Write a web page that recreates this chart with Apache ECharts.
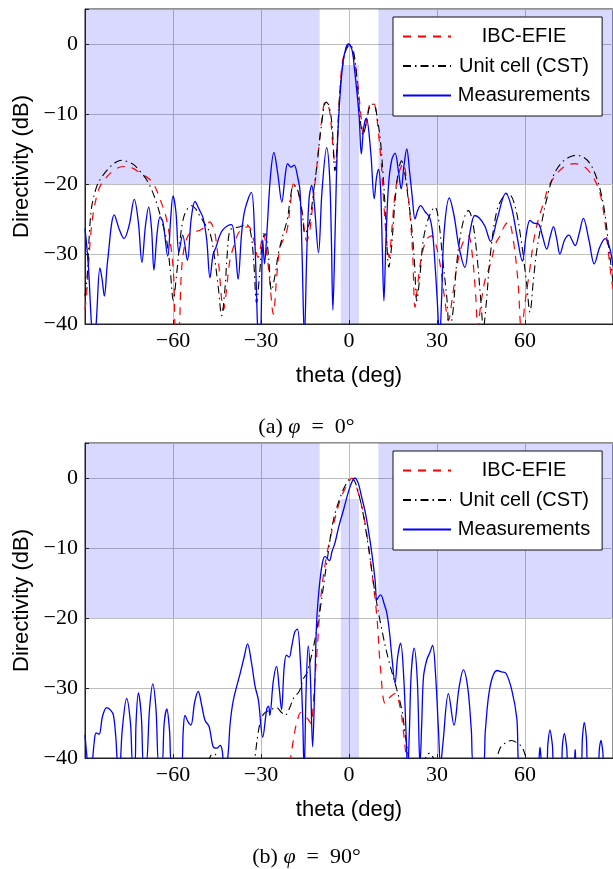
<!DOCTYPE html>
<html><head><meta charset="utf-8">
<script src="https://cdn.jsdelivr.net/npm/echarts@6/dist/echarts.min.js"></script>
<style>html,body{margin:0;padding:0;background:#fff}#c{width:613px;height:869px}</style>
</head><body><div id="c"></div><script>
// ---------- data (theta in deg, directivity in dB) ----------
const seriesNames = ['IBC-EFIE', 'Unit cell (CST)', 'Measurements'];
const xTicks = [-60, -30, 0, 30, 60];
const yTicks = [-40, -30, -20, -10, 0];
const captions = ['(a) {i|φ}\u2002=\u20020°', '(b) {i|φ}\u2002=\u200290°'];

// shading: side-lobe region (theta ranges, dB from -20 up), main-beam strip (theta range, dB from -40 to -3)
const shadeSideTheta = [[-90, -10], [10, 90]];
const shadeSideDb = [-20, 5];
const shadeBeamTheta = [-2.8, 3.4];
const shadeBeamDb = [-40, -3];

// ---- (a) phi = 0 ----
const aIbcTheta = [-90,-89.2,-88.2,-87.2,-85.5,-83.8,-80,-76.9,-74,-71.3,-67.8,-66,-64.4,-62.5,-61,-59.8,-59,-58.2,-57.2,-56.5,-55.5,-54.2,-52.5,-50.8,-48.8,-47.4,-46.5,-45.7,-44.5,-43.4,-42.8,-42,-40.6,-39,-37.7,-36,-34.3,-32.5,-31,-29.2,-28,-27,-25.8,-24.6,-23.5,-21.2,-20,-18.9,-17.6,-16,-14.4,-13.5,-12.7,-11.5,-10.4,-9.2,-8.1,-7.1,-6.2,-5.2,-4.5,-3.8,-2.5,-1.2,0,1.3,2.6,3.8,4.9,6,7,8.3,9.3,10.1,11,11.8,13,13.7,14.5,15.7,17,18.5,19.7,20.8,21.7,22.5,23.5,24.8,26.5,28.2,29.5,31,32.5,33.9,35.3,36.7,38.7,40.7,42,43.2,43.9,45,46.5,48.1,50,51.5,53,54.4,56,57.6,58.8,60,61.7,63,64.6,66.5,68,70,72,74.5,77.1,79,81,83.5,85.6,86.8,87.9,89.3,90];
const aIbcDb = [-38,-34.4,-28,-24.2,-21,-19.6,-18,-17.5,-17.7,-18.4,-19.4,-20.5,-22.2,-24.5,-28,-33,-42,-42,-33,-29.9,-28,-27,-26.8,-26.6,-26,-25.4,-26,-27,-31,-36.6,-38,-36,-30.9,-28.5,-27,-26.3,-26.1,-28,-30.5,-27.1,-30,-34,-38.6,-33,-29.1,-26.7,-23,-20,-20.8,-24,-28.1,-27,-24.3,-19.5,-15.2,-10.5,-8.3,-8.7,-11,-16,-17.6,-12,-3.3,-0.8,0,-1.2,-4.3,-9,-12.9,-11,-8.7,-8.3,-10,-12.9,-17,-22.4,-29.1,-30.5,-27,-21.4,-18.4,-17.1,-20,-24.5,-30,-37.6,-34,-30.2,-27.9,-27.4,-28.5,-31.3,-36,-39.5,-36,-32,-28.5,-27.4,-30,-36,-40.5,-37,-33.5,-31.6,-28.5,-27.4,-26,-25.4,-28,-33.9,-41,-37,-32,-28,-25,-22.5,-20.4,-19,-18,-17.3,-17.1,-17.3,-17.8,-19.2,-21.4,-24,-27.8,-33,-35];

const aCstTheta = [-90,-89.2,-88.5,-87.7,-86.2,-84.9,-82,-79.5,-77.5,-75.5,-73.5,-71.2,-69,-67.3,-65.6,-64,-62.2,-61,-59.9,-58.8,-57.6,-56.5,-55.3,-53.6,-52.2,-50.8,-49,-47.4,-46,-44.5,-43.4,-42.3,-41.5,-40.6,-39,-37.2,-34.9,-33.5,-32.5,-31.5,-30.5,-29.5,-28.6,-27.5,-26.4,-25.2,-24.1,-22.4,-21,-20,-18.9,-17.4,-16,-15,-14.2,-13.3,-12.2,-11,-9.5,-7.8,-6.8,-5.7,-4.8,-4,-3.3,-2.5,-1.3,0.3,1.5,2.6,3.8,4.8,6,7.2,8.5,9.6,10.7,11.6,12.4,13.6,14.5,15.5,16.7,17.9,19,20,21.2,22.3,23.1,24.2,25.3,27,29.3,30.5,32,33.3,34.3,35.5,36.8,38.9,40.7,42.2,43.8,45,45.8,46.8,48.2,50.3,52.3,54.4,56.5,58.5,60.5,61.7,62.8,64,65.7,67.5,69.7,72,74.5,77.6,80,82.2,84.3,86.2,87.5,88.5,89.6,90];
const aCstDb = [-36,-32.8,-27,-23.2,-20.6,-19.4,-17.8,-16.9,-16.6,-16.8,-17.2,-18.2,-19.4,-20.8,-22.7,-25,-28,-32,-36.6,-33,-28,-25,-23.7,-23.1,-23.6,-24.6,-25.8,-27,-30,-35,-38.8,-35,-30,-26.6,-26.3,-26.1,-25.8,-27,-31,-37,-33,-28,-27.1,-30,-35.2,-33,-30,-27.1,-25,-22,-20.2,-21,-24,-27.1,-26.5,-25.2,-21.5,-17.6,-12,-8.3,-8.8,-12,-18.1,-14,-8,-4.3,-1.2,-0.1,-1,-4.5,-10.7,-13,-11,-8.8,-8.6,-10.5,-13.8,-18.5,-23.8,-31.9,-29,-23.5,-18.5,-16.7,-18.5,-21.5,-25.5,-31,-36.7,-33,-28.1,-25,-23.3,-25,-31,-36,-41,-38,-31,-25.4,-23.8,-25.5,-31,-37,-40.5,-37,-30,-24,-22,-21.4,-23,-27.5,-34,-38.3,-34,-29.5,-25.5,-22,-18.8,-17.2,-16.3,-15.9,-16.2,-17.1,-19,-21.8,-25,-28.8,-32.6,-34];

const aMeasTheta = [-90,-88.8,-87.8,-87,-86.2,-84.9,-84.2,-83.4,-82.3,-80,-78.3,-76.7,-75,-73.2,-71.8,-70.6,-69.4,-68.3,-67.3,-66.5,-65.4,-64.4,-63.4,-61.8,-60.8,-60,-59,-58,-56.7,-55.1,-53.8,-52.5,-51,-49.7,-48.5,-47.4,-46.3,-45.3,-44.2,-43.1,-41.5,-40,-38.8,-37.8,-36.6,-35.5,-33.3,-32.2,-31.2,-30.6,-30,-29.4,-28.8,-28,-26.8,-25.6,-24.3,-22.9,-21.8,-20.9,-19.8,-18.7,-17.5,-16.7,-16,-15.2,-14.4,-13.6,-12.7,-11.8,-10.4,-9.2,-7.6,-6.6,-6,-5.5,-4.8,-4,-3,-2,-1,-0.2,1,1.8,3.4,4.2,5,5.9,7.4,8.6,9.4,10.1,10.8,11.4,11.9,12.6,13.5,14.6,15.7,16.8,17.8,18.7,19.7,20.6,21.6,22.5,23.4,24.4,26,27.5,28.5,29.3,30,30.9,31.6,32.4,34.2,35.8,37.5,39.5,41.2,42.9,44.5,46.3,48.3,50.5,53.5,55.5,57.3,59.1,60.5,61.7,63,64.6,66,67.4,68.6,69.7,70.8,71.9,73.5,75,76,77.1,78.5,79.9,81.8,83.6,85.5,87.3,88.8,90];
const aMeasDb = [-26.3,-32,-40,-43,-40,-32,-33.5,-36,-31,-24.4,-26.5,-27.8,-26,-22.2,-25.5,-31.2,-26,-23.3,-26.5,-32.3,-27,-24.7,-25.5,-30.3,-25,-21.7,-24,-29.7,-27.3,-30.9,-25,-22.5,-23.7,-24.9,-28,-33.4,-30,-29,-27.5,-26.6,-26,-25.8,-29,-33.6,-27,-23.7,-21.2,-27,-40,-44,-40,-28,-31.4,-27,-19,-15.5,-18.5,-22.6,-19,-17.1,-17.6,-17.3,-19,-21,-30,-42,-30,-22,-20.2,-23,-29.8,-21,-14.8,-19,-28,-38,-28,-15,-7,-2.5,-0.5,0,-0.8,-3.3,-10,-15.7,-12,-10.6,-15.4,-22.1,-19,-17.9,-21,-30,-36.7,-28,-20,-16.5,-15.6,-18,-20.7,-17.5,-15,-18,-22,-25,-23.8,-23.1,-24,-24.8,-27,-31.3,-36,-42,-36,-27,-22,-24.5,-29,-31.9,-27,-24.5,-24.9,-26,-28.2,-25,-21.3,-23.5,-27.5,-31,-27,-25.2,-25.6,-25.7,-27.5,-29.3,-27.5,-26.1,-27.8,-30,-28,-27.3,-28,-28.8,-27,-24.9,-28,-31.4,-29,-27.8,-29,-31.7];

// ---- (b) phi = 90 ----
const bIbcTheta = [-21,-20.2,-19.3,-18.4,-17.7,-16.5,-15.2,-13.9,-12.9,-12.3,-11.8,-10.7,-9.6,-7.9,-5.5,-2.6,0.3,0.9,3.2,5.5,7.7,9.5,10.6,12.3,13.5,15.7,17.4,18.5,19.5,20.2,21];
const bIbcDb = [-45,-41,-38.3,-36,-34.8,-33.5,-33.9,-34.5,-35.1,-33,-29.8,-23.6,-17,-11.7,-7,-2.7,-0.3,0,-2.2,-6.5,-13.1,-19.8,-26.5,-32.2,-31.5,-30.8,-32.7,-36,-40,-43,-46];

const bCstTheta = [-49.5,-48.5,-47.5,-46.5,-45.5,-44.5,-43.8,-34,-33,-32,-31,-30,-28.8,-26.6,-24.7,-23,-21.8,-20.1,-19,-17,-15.6,-14.4,-12.1,-9.9,-7.6,-5.3,-2.5,-0.2,0.9,3.8,6.6,8.9,11.2,13.5,15.7,18,19.1,20.3,21,24.5,25.5,26.5,27.5,28.5,29.5,30.5,49,50,51.5,53.5,55.5,57.5,58.9,60,61,62];
const bCstDb = [-43,-41,-40,-39.4,-39.5,-40.5,-42,-46,-43,-39.7,-36.5,-34.5,-33.6,-33.1,-32.8,-33.5,-33.9,-32.7,-31.5,-30.5,-28.7,-27.9,-24.1,-18.9,-12.2,-6,-2.2,-0.3,0,-3.1,-9.8,-16.5,-21.7,-26,-29.3,-33.1,-36.5,-40,-43,-43,-41,-39.6,-39.3,-39.8,-41,-43,-43,-41,-38.6,-37.8,-37.5,-37.9,-38.4,-39.5,-41,-43];

const bMeasTheta = [-90,-89.2,-88.5,-87.5,-86.8,-86.2,-85.2,-84,-82.6,-81.2,-80.3,-79.5,-78.9,-78.3,-77.3,-75.8,-74.5,-73.7,-73,-72.6,-71.8,-70.8,-70,-69.2,-68,-66.9,-65.8,-64.8,-63.8,-63,-62.1,-61.2,-60.3,-57.2,-56.5,-55.9,-54.9,-53.9,-52.6,-51.4,-50.2,-49.1,-47.7,-46.3,-45.1,-43.9,-43.2,-42.6,-41.5,-40.5,-39.4,-37.1,-35.7,-34.6,-33.2,-32,-30.9,-29.4,-28,-27.4,-27,-25.8,-24.7,-23.8,-23,-22.1,-21.3,-20.4,-19.5,-18.5,-17.6,-16.6,-15.8,-15.3,-14.6,-13.9,-13.2,-12.4,-11.7,-11,-9.9,-9,-8.2,-6.7,-5.8,-4.8,-3.4,-1.9,0.4,2,3.2,4.3,5.5,6.6,7.8,8.9,9.5,10.2,10.8,12,12.9,13.8,14.6,15.7,16.6,17.6,18.6,19.5,20,20.6,21.2,22.2,23.3,24.2,24.8,25.4,26.5,27.5,28.5,29.5,30.5,31.2,32,33.9,35.8,37.5,39,40.5,41.7,42.5,45.7,46.5,48.1,50.5,52,53.5,55.5,57.2,58.2,64.5,64.8,65.1,65.5,66,67.3,67.8,68.5,69.3,70,72.2,72.8,73.4,74.2,74.8,76.6,77.1,77.6,79,79.6,80.2,80.9,81.5,84.8,85.4,85.9,86.5,87,90];
const bMeasDb = [-36.7,-40.5,-43,-40.5,-37.5,-36.4,-36.6,-34,-32.8,-33.2,-33.9,-37,-41,-42,-36,-31.5,-35,-41,-41,-35,-30.7,-34,-41,-41,-33,-29.4,-33,-41,-41,-35,-33,-36,-41,-41,-36,-33.9,-34.8,-35.3,-32,-30.5,-32.5,-34.6,-35.5,-38.4,-38.6,-38.2,-39,-41,-40.5,-35,-31.7,-27.9,-25.5,-23.7,-26.5,-29.8,-31.7,-37,-32.9,-32.6,-33.9,-29,-26.9,-30,-33.1,-27,-25.3,-25.6,-24,-22,-21.6,-26,-34,-42,-30,-24,-28,-38.4,-30,-20.3,-14.6,-12,-11.2,-11.8,-10.5,-9.3,-6.8,-4.6,-1.2,0,-0.8,-2.7,-4.8,-7.4,-10.8,-14.6,-17.4,-16.9,-16.7,-18,-19.3,-22,-25.5,-29.3,-25.5,-23.6,-28,-37,-42,-36,-28,-24.3,-29,-41,-35,-28.4,-26,-25,-23.9,-28,-36,-41,-38,-30.8,-35.3,-30,-27.4,-30,-36,-41,-41,-36,-29.8,-27.5,-27.7,-27.9,-30.3,-34.3,-41,-41,-40,-38.5,-40,-41,-41,-38,-36,-38,-41,-41,-38,-36.5,-38.5,-41,-41,-38.8,-41,-41,-37,-34.9,-37,-41,-41,-38.5,-37.5,-39,-41,-41];

// ---------- chart ----------
const zip = (t, v) => t.map((x, i) => [x, v[i]]);
const FS = 'Liberation Sans, Arial, Helvetica, sans-serif';
const FSerif = 'Liberation Serif, Times New Roman, serif';
const GRID_TOPS = [9, 443];
const COLORS = ['#ff0000', '#000000', '#0000ff'];
const LINE_TYPES = [[8, 7], [8, 4, 1.5, 4], 'solid'];
const WIDTHS = [1.2, 1.1, 1.3];

const dataSets = [
  [zip(aIbcTheta, aIbcDb), zip(aCstTheta, aCstDb), zip(aMeasTheta, aMeasDb)],
  [zip(bIbcTheta, bIbcDb), zip(bCstTheta, bCstDb), zip(bMeasTheta, bMeasDb)]
];

const shadeFill = 'rgba(0,0,255,0.15)';
function shadeAreas() {
  const a = shadeSideTheta.map(r => [{xAxis: r[0], yAxis: shadeSideDb[0]}, {xAxis: r[1], yAxis: shadeSideDb[1]}]);
  a.push([{xAxis: shadeBeamTheta[0], yAxis: shadeBeamDb[0]}, {xAxis: shadeBeamTheta[1], yAxis: shadeBeamDb[1]}]);
  return a;
}
const tickFmt = list => v => (list.indexOf(v) >= 0 ? (v < 0 ? '\u2212' + Math.abs(v) : String(v)) : '');

const grids = [], xAxes = [], yAxes = [], series = [], legends = [], titles = [];
[0, 1].forEach(g => {
  grids.push({left: 85, top: GRID_TOPS[g], width: 528, height: 315, show: true,
    borderColor: '#222', borderWidth: 1, backgroundColor: 'transparent', containLabel: false, outerBoundsMode: 'none'});
  xAxes.push({gridIndex: g, type: 'value', min: -90, max: 90, interval: 30,
    name: 'theta (deg)', nameLocation: 'middle', nameGap: 41,
    nameTextStyle: {fontFamily: FS, fontSize: 22, color: '#000'},
    axisLine: {show: true, onZero: false, lineStyle: {color: '#222', width: 1}},
    axisTick: {show: true, inside: true, length: 4, lineStyle: {color: '#222'}},
    axisLabel: {margin: 6, fontFamily: FSerif, fontSize: 22, color: '#000', showMinLabel: false, showMaxLabel: false,
      formatter: tickFmt(xTicks)},
    splitLine: {show: true, lineStyle: {color: '#bdbdbd', width: 1}}});
  yAxes.push({gridIndex: g, type: 'value', min: -40, max: 5, interval: 10,
    name: 'Directivity (dB)', nameLocation: 'middle', nameGap: 49,
    nameTextStyle: {fontFamily: FS, fontSize: 22, color: '#000'},
    axisLine: {show: true, onZero: false, lineStyle: {color: '#222', width: 1}},
    axisTick: {show: true, inside: true, length: 4, lineStyle: {color: '#222'}},
    axisLabel: {margin: 7, fontFamily: FSerif, fontSize: 22, color: '#000', formatter: tickFmt(yTicks)},
    splitLine: {show: true, lineStyle: {color: '#bdbdbd', width: 1}}});
  // shading carrier
  series.push({name: 'shade' + g, type: 'line', xAxisIndex: g, yAxisIndex: g, data: [], silent: true, z: 1,
    markArea: {silent: true, itemStyle: {color: shadeFill}, data: shadeAreas()}});
  seriesNames.forEach((nm, k) => {
    series.push({name: nm, type: 'line', xAxisIndex: g, yAxisIndex: g, data: dataSets[g][k],
      showSymbol: false, symbol: 'none', smooth: 0.35, clip: true, z: 2 + k,
      lineStyle: {color: COLORS[k], width: WIDTHS[k], type: LINE_TYPES[k]},
      itemStyle: {color: COLORS[k]}});
  });
  legends.push({data: seriesNames, orient: 'vertical', left: 393, top: GRID_TOPS[g] + 8,
    padding: [9.5, 12, 10.5, 9], itemGap: 9.5, itemWidth: 48, itemHeight: 14,
    backgroundColor: '#fff', borderColor: '#111', borderWidth: 1, borderRadius: 0,
    selectedMode: false,
    itemStyle: {opacity: 0, borderWidth: 0},
    formatter: n => '{t|' + n + '}',
    textStyle: {rich: {t: {width: 136, align: 'center', fontFamily: FS, fontSize: 20, color: '#000'}}}});
  titles.push({text: captions[g], left: 'center', top: g === 0 ? 411 : 841,
    textStyle: {fontFamily: FSerif, fontSize: 22, fontWeight: 'normal', color: '#000',
      rich: {i: {fontFamily: FSerif, fontSize: 22, fontStyle: 'italic', color: '#000'}}}});
});

const chart = echarts.init(document.getElementById('c'), null, {renderer: 'canvas'});
chart.setOption({animation: false, backgroundColor: '#fff', title: titles, grid: grids,
  xAxis: xAxes, yAxis: yAxes, legend: legends, series: series, tooltip: {show: false}});
</script></body></html>
